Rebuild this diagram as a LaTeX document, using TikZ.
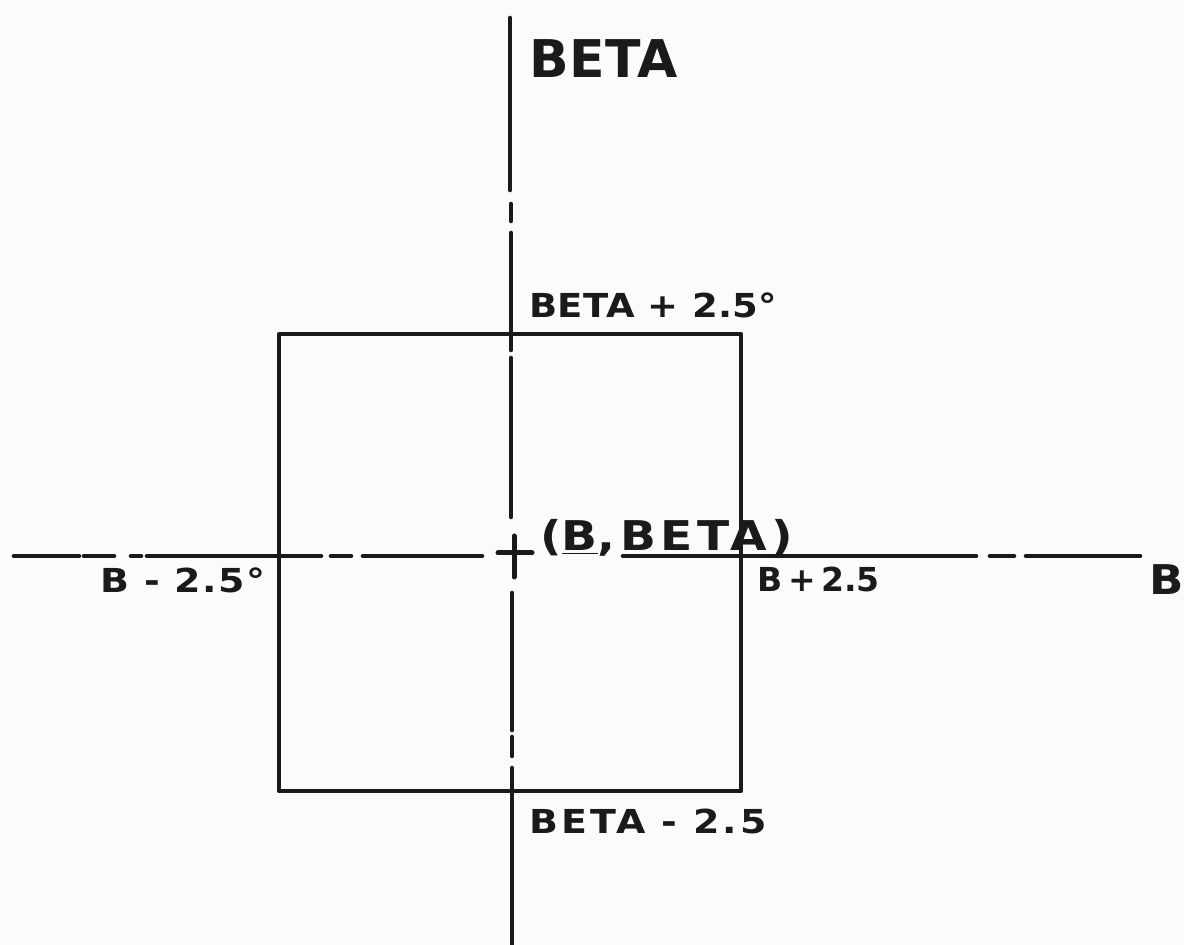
\documentclass[tikz,border=0pt]{standalone}
\usepackage{fontspec}
\setmainfont{DejaVu Sans}
\definecolor{ink}{HTML}{1A1A1A}
\definecolor{paper}{HTML}{FBFBFB}
% wide lettering: stretched glyphs plus some tracking
\newcommand{\wide}[2]{\addfontfeatures{FakeStretch=#1,LetterSpace=#2}}
\tikzset{
  axisline/.style={line width=2.3pt, draw=ink, line cap=round},
  boxline/.style={line width=2.3pt, draw=ink, line join=round},
  lbl/.style={inner sep=0pt, anchor=base west, text=ink},
  bigtxt/.style={lbl, font=\fontsize{26}{28}\selectfont\bfseries},
  midtxt/.style={lbl, font=\fontsize{16.5}{18}\selectfont\bfseries},
  pttxt/.style={lbl, font=\fontsize{20.5}{22}\selectfont\bfseries}
}
\begin{document}
\begin{tikzpicture}[x=0.5pt, y=-0.5pt]
  % canvas
  \useasboundingbox (0,0) rectangle (1184,945);
  \fill[paper] (0,0) rectangle (1184,945);
  \clip (0,0) rectangle (1184,945);

  % window of +/- 2.5 degrees around the point
  \coordinate (nw) at (279,334);
  \coordinate (se) at (741,791);
  \draw[boxline] (nw) rectangle (se);

  % vertical (BETA) axis, broken chain line
  \draw[axisline] (510,18) -- (510,190);
  \draw[axisline] (511,204) -- (511,221);
  \draw[axisline] (511,233) -- (511,350);
  \draw[axisline] (511,358) -- (511,517);
  \draw[axisline] (512,593) -- (512,730);
  \draw[axisline] (512,737) -- (512,756);
  \draw[axisline] (512,768) -- (512,945);

  % horizontal (B) axis, broken chain line
  \draw[axisline] (14,556) -- (79,556);
  \draw[axisline] (84,556) -- (114,556);
  \draw[axisline] (131,556) -- (141,556);
  \draw[axisline] (147,556) -- (321,556);
  \draw[axisline] (331,556) -- (351,556);
  \draw[axisline] (363,556) -- (482,556);
  \draw[axisline] (623,556) -- (976,556);
  \draw[axisline] (990,556) -- (1014,556);
  \draw[axisline] (1026,556) -- (1140,556);

  % centre mark
  \coordinate (ctr) at (514,553);
  \draw[axisline, line width=2.5pt] (498,553) -- (532,553);
  \draw[axisline, line width=2.5pt] (514,536) -- (514,577);

  % labels
  \node[bigtxt] (beta) at (529,78) {\wide{1.0}{1}BETA};
  \node[midtxt] (bplus) at (529,318) {\wide{1.12}{1}BETA + 2.5°};
  \node[pttxt] (pt) at (540,551) {\wide{1.15}{11}(\underline{B},BETA)};
  \node[midtxt] (hmin) at (100,593) {\wide{1.15}{5}B - 2.5°};
  \node[midtxt] (hplus) at (757,592) {B\,+\,2.5};
  \node[midtxt] (bminus) at (529,834) {\wide{1.15}{9}BETA - 2.5};
  \node[pttxt] (baxis) at (1149,595) {\wide{1.1}{0}B};
\end{tikzpicture}
\end{document}
